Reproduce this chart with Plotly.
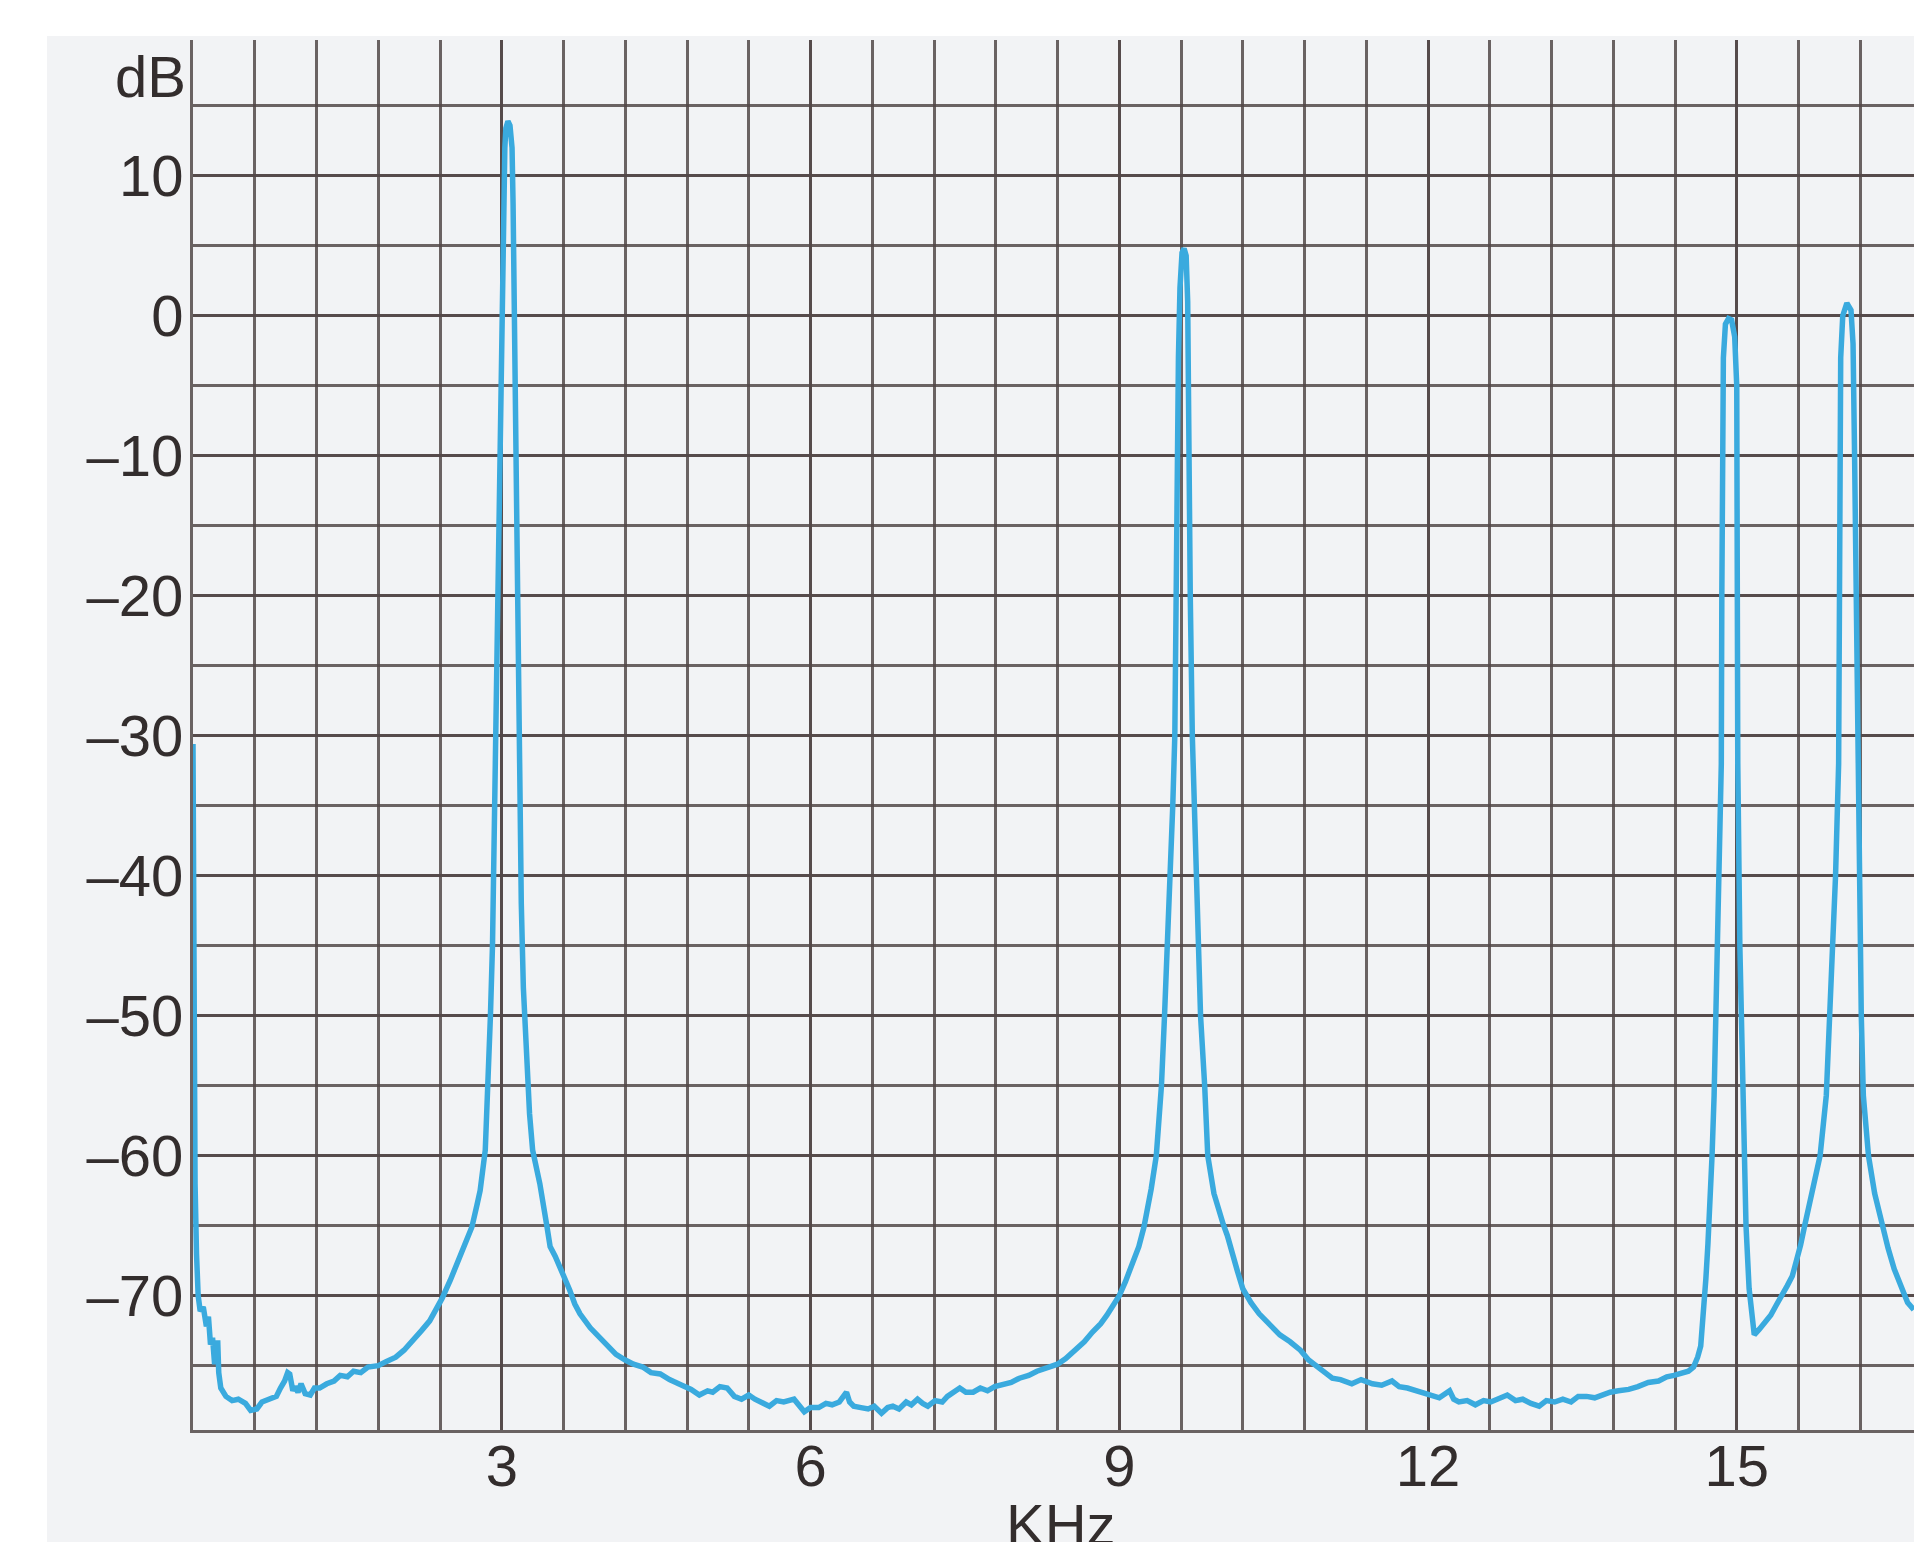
import plotly.graph_objects as go

# ---- data (frequency in kHz, level in dB) ----
freq_khz = [
    0.0, 0.004, 0.008, 0.012, 0.02, 0.034, 0.05, 0.07, 0.10, 0.13, 0.15, 0.17, 0.19, 0.21, 0.24, 0.25, 0.27,
    0.32, 0.38, 0.44, 0.51, 0.56, 0.62, 0.67, 0.71, 0.76, 0.81, 0.85, 0.89, 0.92, 0.94, 0.97, 0.99, 1.02,
    1.05, 1.09, 1.14, 1.18, 1.23, 1.30, 1.37, 1.43, 1.50, 1.56, 1.63, 1.70, 1.80, 1.88, 1.97, 2.05, 2.13,
    2.22, 2.30, 2.37, 2.42, 2.50, 2.59, 2.65, 2.71, 2.76, 2.79, 2.84,
    2.87, 2.89, 2.91, 2.92, 2.93, 2.94, 2.95, 2.97, 2.99, 3.01, 3.02, 3.03, 3.04, 3.06, 3.08, 3.10, 3.11,
    3.12, 3.135, 3.145, 3.155, 3.165, 3.18, 3.19, 3.21, 3.24, 3.27, 3.30, 3.37, 3.44, 3.47, 3.52, 3.57, 3.66,
    3.71, 3.76, 3.86, 3.94, 4.03, 4.11, 4.20, 4.28, 4.37, 4.45, 4.54, 4.63, 4.75, 4.84, 4.92, 5.00, 5.05,
    5.12, 5.19, 5.26, 5.33, 5.40, 5.46, 5.53, 5.60, 5.67, 5.74, 5.84, 5.90, 5.94, 6.00, 6.08, 6.15, 6.21,
    6.28, 6.35, 6.38, 6.42, 6.49, 6.56, 6.62, 6.69, 6.75, 6.80, 6.86, 6.93, 6.98, 7.04, 7.09, 7.14, 7.21,
    7.28, 7.33, 7.38, 7.45, 7.51, 7.58, 7.65, 7.72, 7.79, 7.86, 7.95, 8.03, 8.12, 8.20, 8.30, 8.40, 8.48,
    8.57, 8.66, 8.74, 8.82, 8.88, 8.94, 9.00, 9.06, 9.13, 9.19, 9.24, 9.28, 9.31, 9.36, 9.41, 9.44, 9.47,
    9.49, 9.52, 9.54, 9.55, 9.565, 9.575, 9.59, 9.61, 9.63, 9.65, 9.665, 9.67, 9.68, 9.69, 9.71, 9.73, 9.75,
    9.78, 9.79, 9.83, 9.86, 9.92, 9.96, 10.01, 10.05, 10.10, 10.15, 10.20, 10.28, 10.36, 10.46, 10.56,
    10.66, 10.76, 10.84, 10.92, 11.00, 11.07, 11.15, 11.26, 11.35, 11.46, 11.55, 11.65, 11.72, 11.80,
    11.90, 12.00, 12.11, 12.21, 12.25, 12.30, 12.38, 12.46, 12.54, 12.61, 12.69, 12.77, 12.85, 12.92,
    13.00, 13.08, 13.15, 13.23, 13.31, 13.39, 13.46, 13.54, 13.62, 13.69, 13.77, 13.85, 13.95, 14.04,
    14.14, 14.24, 14.32, 14.39, 14.46, 14.53, 14.58, 14.62, 14.65, 14.68, 14.70, 14.72, 14.75, 14.76,
    14.78, 14.80, 14.82, 14.85, 14.855, 14.86, 14.87, 14.89, 14.92, 14.95, 14.98, 15.00, 15.005, 15.01,
    15.03, 15.06, 15.07, 15.09, 15.12, 15.17, 15.22, 15.27, 15.33, 15.39, 15.44, 15.49, 15.54, 15.58,
    15.62, 15.66, 15.70, 15.74, 15.81, 15.87, 15.92, 15.96, 15.99, 16.00, 16.005, 16.01, 16.03, 16.07,
    16.11, 16.13, 16.145, 16.16, 16.17, 16.19, 16.21, 16.23, 16.28, 16.34, 16.41, 16.47, 16.53, 16.60,
    16.66, 16.72,
]
level_db = [
    -30.6, -40, -50, -57, -62, -67, -70, -71.1, -70.8, -72.2, -71.5, -73.5, -73.0, -74.9, -73.2, -75.5, -76.6,
    -77.2, -77.5, -77.4, -77.7, -78.2, -78.1, -77.6, -77.5, -77.3, -77.2, -76.6, -76.1, -75.5, -75.6, -76.8, -76.5, -76.9,
    -76.3, -77.0, -77.1, -76.6, -76.6, -76.3, -76.1, -75.7, -75.8, -75.4, -75.5, -75.1, -75.0, -74.7, -74.4, -73.9, -73.3,
    -72.5, -71.8, -70.9, -70.2, -68.9, -67.3, -66.0, -65.1, -63.5, -62.5, -59.6,
    -55, -50, -45, -40, -35, -30, -22, -14, -5, 3, 9, 12, 13.4, 13.9, 13.6, 12, 8,
    2, -5, -14, -22, -30, -36, -42, -48, -53, -57, -59.6, -62.0, -65.1, -66.5, -67.2, -68.0, -69.6,
    -70.6, -71.3, -72.3, -72.9, -73.6, -74.2, -74.6, -74.9, -75.1, -75.5, -75.6, -76.0, -76.4, -76.7, -77.1, -76.8, -76.9,
    -76.5, -76.6, -77.2, -77.4, -77.1, -77.4, -77.7, -77.9, -77.5, -77.6, -77.4, -77.9, -78.3, -78.0, -78.0, -77.7, -77.8,
    -77.6, -76.9, -77.6, -77.9, -78.0, -78.1, -77.9, -78.4, -78.0, -77.9, -78.1, -77.6, -77.8, -77.4, -77.7, -77.9, -77.5,
    -77.6, -77.2, -76.9, -76.6, -76.9, -76.9, -76.6, -76.8, -76.5, -76.4, -76.2, -75.9, -75.7, -75.4, -75.2, -74.9, -74.5,
    -73.9, -73.3, -72.6, -72.0, -71.4, -70.7, -70.0, -69.0, -67.7, -66.5, -65.1, -63.8, -62.4, -60, -55, -50, -45,
    -40, -35, -30, -20, -10, -3, 2, 4.5, 4.8, 4.3, 1, -5, -12, -20, -30, -35, -40,
    -45, -50, -55, -60, -62.7, -63.8, -64.9, -65.7, -67.1, -68.3, -69.5, -70.5, -71.3, -72.1, -72.8,
    -73.3, -73.9, -74.6, -75.1, -75.5, -75.9, -76.0, -76.3, -76.0, -76.3, -76.4, -76.1, -76.5, -76.6,
    -76.8, -77.1, -77.3, -76.8, -77.4, -77.6, -77.5, -77.8, -77.5, -77.6, -77.3, -77.1, -77.5, -77.4,
    -77.7, -77.9, -77.5, -77.6, -77.4, -77.6, -77.2, -77.2, -77.3, -77.1, -76.9, -76.8, -76.7, -76.5,
    -76.2, -76.1, -75.8, -75.7, -75.5, -75.4, -75.1, -74.4, -73.6, -71.2, -68.8, -66.3, -62, -60,
    -55.7, -48, -40, -32, -20, -10, -3, -0.6, -0.2, -0.3, -1.5, -5, -15, -32,
    -45, -56, -60, -65, -69.5, -72.8, -72.4, -72.0, -71.4, -70.6, -70.0, -69.3, -68.6, -67.6,
    -66.4, -65, -63.7, -62.4, -60, -55.7, -48, -40, -32, -20, -10, -3, 0, 0.9,
    0.4, -2, -10, -20, -32, -42, -50, -55.7, -60, -62.7, -65, -66.6, -68.1, -69.3,
    -70.5, -71.0,
]

x_tick_vals = [3, 6, 9, 12, 15]
x_tick_text = ["3", "6", "9", "12", "15"]
y_tick_vals = [10, 0, -10, -20, -30, -40, -50, -60, -70]
y_tick_text = ["10", "0", "–10", "–20", "–30", "–40", "–50", "–60", "–70"]
y_unit_label = "dB"
x_unit_label = "KHz"

# ---- styling ----
BODY = 8                      # browser default body margin offsets the figure
W, H = 1922 - BODY, 1542 - BODY
ML, MR, MT, MB = 193 - BODY, 0, 40 - BODY, 112
X_RANGE = [0, 16.8]
Y_RANGE = [-79.6, 19.7]
FONT = "Liberation Sans, Arial, Helvetica, sans-serif"
FS = 58
TEXT_COLOR = "#332d2d"
GRID_COLOR = "rgba(82,72,72,0.85)"
GRID_W = 3
LINE_COLOR = "#3aaade"
PAGE_GREY = "#f2f3f5"

plot_w = W - ML - MR
plot_h = H - MT - MB

fig = go.Figure()
fig.add_trace(go.Scatter(
    x=freq_khz, y=level_db, mode="lines",
    line=dict(color=LINE_COLOR, width=5.5),
    hoverinfo="skip", showlegend=False,
))

fig.update_layout(
    width=W, height=H,
    margin=dict(l=ML, r=MR, t=MT, b=MB, pad=0),
    paper_bgcolor="white",
    plot_bgcolor="rgba(0,0,0,0)",
    font=dict(family=FONT, size=FS, color=TEXT_COLOR),
    showlegend=False,
    xaxis=dict(
        range=X_RANGE, tickmode="array", tickvals=x_tick_vals, ticktext=x_tick_text,
        showgrid=True, gridcolor=GRID_COLOR, gridwidth=GRID_W,
        minor=dict(dtick=0.6, tick0=0, showgrid=True, gridcolor=GRID_COLOR, gridwidth=GRID_W, ticks=""),
        showline=True, linecolor=GRID_COLOR, linewidth=GRID_W, mirror=False,
        zeroline=False, ticks="", ticklabelstandoff=-17,
        tickfont=dict(family=FONT, size=FS, color=TEXT_COLOR),
        fixedrange=True,
    ),
    yaxis=dict(
        range=Y_RANGE, tickmode="array", tickvals=y_tick_vals, ticktext=y_tick_text,
        showgrid=True, gridcolor=GRID_COLOR, gridwidth=GRID_W,
        minor=dict(dtick=5, tick0=0, showgrid=True, gridcolor=GRID_COLOR, gridwidth=GRID_W, ticks=""),
        showline=True, linecolor=GRID_COLOR, linewidth=GRID_W, mirror=False,
        zeroline=False, ticks="", ticklabelstandoff=-5,
        tickfont=dict(family=FONT, size=FS, color=TEXT_COLOR),
        fixedrange=True,
    ),
    shapes=[
        dict(type="rect", xref="paper", yref="paper",
             x0=(47 - BODY - ML) / plot_w, x1=1.02,
             y0=-0.2, y1=(H - MB - (36 - BODY)) / plot_h,
             fillcolor=PAGE_GREY, line=dict(width=0), layer="below"),
    ],
    annotations=[
        dict(text=y_unit_label, x=0, xref="x", y=17.1, yref="y",
             xanchor="right", yanchor="middle", xshift=-5, showarrow=False,
             font=dict(family=FONT, size=FS, color=TEXT_COLOR)),
        dict(text=x_unit_label, x=8.43, xref="x", y=-0.043, yref="paper",
             xanchor="center", yanchor="top", showarrow=False,
             font=dict(family=FONT, size=FS, color=TEXT_COLOR)),
    ],
)

fig.write_html("out.html", config={"displayModeBar": False})
